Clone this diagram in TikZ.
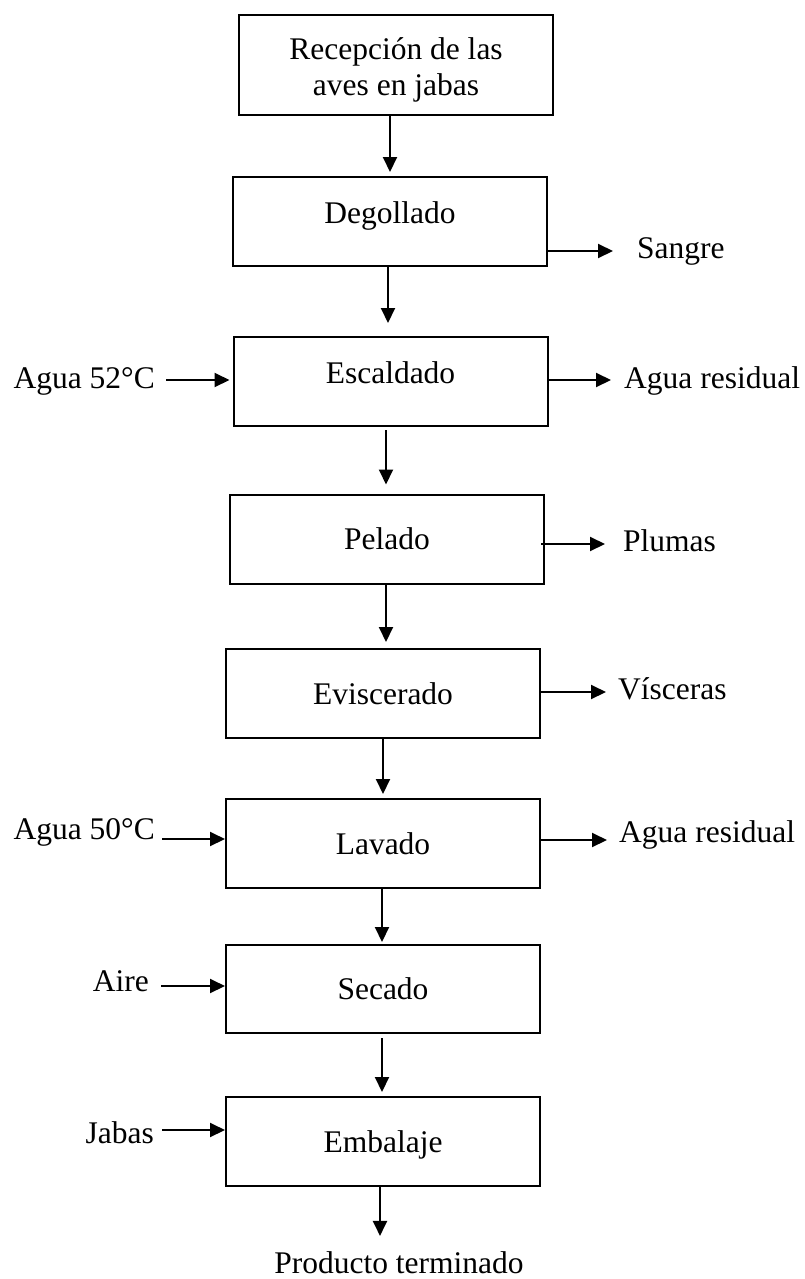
\documentclass[tikz,border=0pt]{standalone}
\usepackage{fontspec}
\setmainfont{Liberation Serif}
\usetikzlibrary{arrows.meta}
\begin{document}
\begin{tikzpicture}[x=1pt,y=-1pt,
  every node/.style={font={\fontsize{31.5}{36}\selectfont}},
  box/.style={draw, line width=2pt, minimum width=314pt, minimum height=89pt, inner sep=0pt, text height=21pt, text depth=0pt},
  hibox/.style={box, text depth=18pt},
  lbl/.style={inner sep=0pt},
  arr/.style={line width=2pt, -{Triangle[length=15pt,width=14pt]}}]
\fill[white] (0,0) rectangle (804,1279);
\useasboundingbox (0,0) rectangle (804,1279);

% process boxes
\node[box, minimum height=100pt] (rec) at (396,65) {};
\node[lbl, align=center, anchor=north] (rectxt) at (396,37.5) {Recepción de las\\aves en jabas};
\node[hibox] (deg) at (390,221.5) {Degollado};
\node[hibox] (esc) at (390.5,381.5) {Escaldado};
\node[box] (pel) at (387,539) {Pelado};
\node[box] (evi) at (383,693.5) {Eviscerado};
\node[box] (lav) at (383,843.5) {Lavado};
\node[box, minimum height=88pt] (sec) at (383,989) {Secado};
\node[box] (emb) at (383,1141.5) {Embalaje};

% side labels
\node[lbl, anchor=base west] (sangre) at (637,258) {Sangre};
\node[lbl, anchor=base east] (agua52) at (155,388) {Agua 52°C};
\node[lbl, anchor=base west] (res1) at (624,388) {Agua residual};
\node[lbl, anchor=base west] (plumas) at (623,551) {Plumas};
\node[lbl, anchor=base west] (visc) at (618,699) {Vísceras};
\node[lbl, anchor=base east] (agua50) at (155,839) {Agua 50°C};
\node[lbl, anchor=base west] (res2) at (619,842) {Agua residual};
\node[lbl, anchor=base east] (aire) at (149,991) {Aire};
\node[lbl, anchor=base east] (jabas) at (154,1143) {Jabas};
\node[lbl, anchor=base] (prod) at (399,1273) {Producto terminado};

% main flow
\draw[arr, shorten >=4pt] (rec.south -| 390,0) -- (deg.north -| 390,0);
\draw[arr, shorten >=13pt] (deg.south -| 388,0) -- (esc.north -| 388,0);
\draw[arr, shorten <=3pt, shorten >=9pt] (esc.south -| 386,0) -- (pel.north -| 386,0);
\draw[arr, shorten >=6pt] (pel.south -| 386,0) -- (evi.north -| 386,0);
\draw[arr, shorten >=4pt] (evi.south -| 383,0) -- (lav.north -| 383,0);
\draw[arr, shorten >=2pt] (lav.south -| 382,0) -- (sec.north -| 382,0);
\draw[arr, shorten <=4pt, shorten >=4pt] (sec.south -| 382,0) -- (emb.north -| 382,0);
\draw[arr, shorten >=15pt] (emb.south -| 380,0) -- (prod.north -| 380,0);

% inputs
\draw[arr, shorten <=11pt, shorten >=3pt] (agua52.east |- 0,380) -- (esc.west |- 0,380);
\draw[arr, shorten <=7pt] (agua50.east |- 0,839) -- (lav.west |- 0,839);
\draw[arr, shorten <=12pt] (aire.east |- 0,986) -- (sec.west |- 0,986);
\draw[arr, shorten <=8pt] (jabas.east |- 0,1130) -- (emb.west |- 0,1130);

% outputs
\draw[arr, shorten >=24pt] (deg.east |- 0,251) -- (sangre.west |- 0,251);
\draw[arr, shorten >=13pt] (esc.east |- 0,380) -- (res1.west |- 0,380);
\draw[arr, shorten <=-4pt, shorten >=18pt] (pel.east |- 0,544) -- (plumas.west |- 0,544);
\draw[arr, shorten >=12pt] (evi.east |- 0,692) -- (visc.west |- 0,692);
\draw[arr, shorten >=12pt] (lav.east |- 0,840) -- (res2.west |- 0,840);
\end{tikzpicture}
\end{document}
